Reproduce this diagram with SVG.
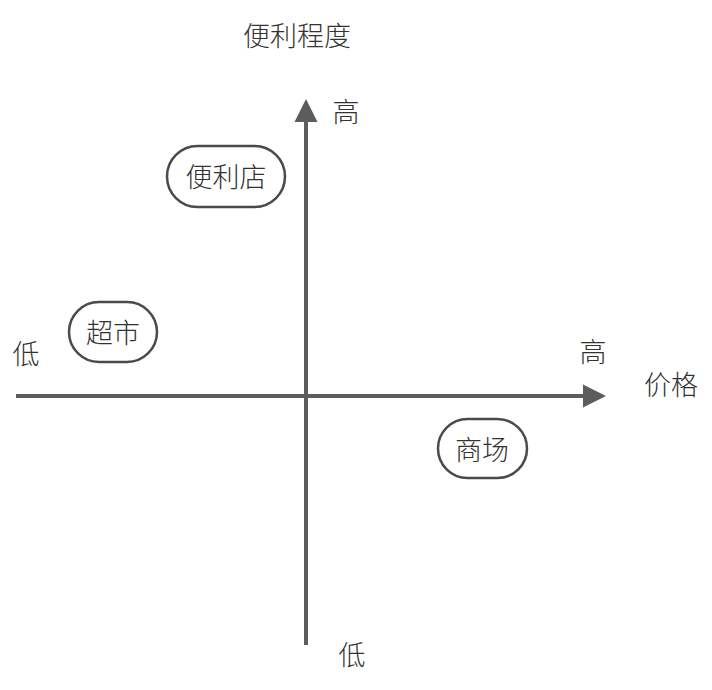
<svg xmlns="http://www.w3.org/2000/svg" width="712" height="690" viewBox="0 0 712 690">
<defs>
<style>
text{font-family:"Noto Sans CJK SC","Noto Sans",sans-serif;font-size:27px;font-weight:300;fill:#333;text-anchor:middle;dominant-baseline:central}
.axis{stroke:#5c5c5c;stroke-width:4;fill:none}
.head{fill:#5c5c5c}
.node rect{fill:#fff;stroke:#4a4a4a;stroke-width:2.5}
</style>
</defs>
<rect width="712" height="690" fill="#fff"/>
<g id="connectors">
<line class="axis" x1="16" y1="396" x2="588" y2="396"/>
<polygon class="head" points="606,396 583,384.5 583,407.5"/>
<line class="axis" x1="306" y1="645" x2="306" y2="118"/>
<polygon class="head" points="306,99 294.5,122 317.5,122"/>
</g>
<g id="labels">
<text x="297" y="34">便利程度</text>
<text x="346" y="110">高</text>
<text x="26" y="352">低</text>
<text x="593" y="350">高</text>
<text x="671" y="383">价格</text>
<text x="352" y="653">低</text>
</g>
<g id="node-bianlidian" class="node">
<rect x="167" y="146" width="118" height="61" rx="30.5"/>
<text x="226" y="175">便利店</text>
</g>
<g id="node-chaoshi" class="node">
<rect x="69" y="302" width="88" height="60" rx="30"/>
<text x="113" y="331">超市</text>
</g>
<g id="node-shangchang" class="node">
<rect x="438" y="419" width="89" height="59" rx="29.5"/>
<text x="482" y="448">商场</text>
</g>
</svg>
